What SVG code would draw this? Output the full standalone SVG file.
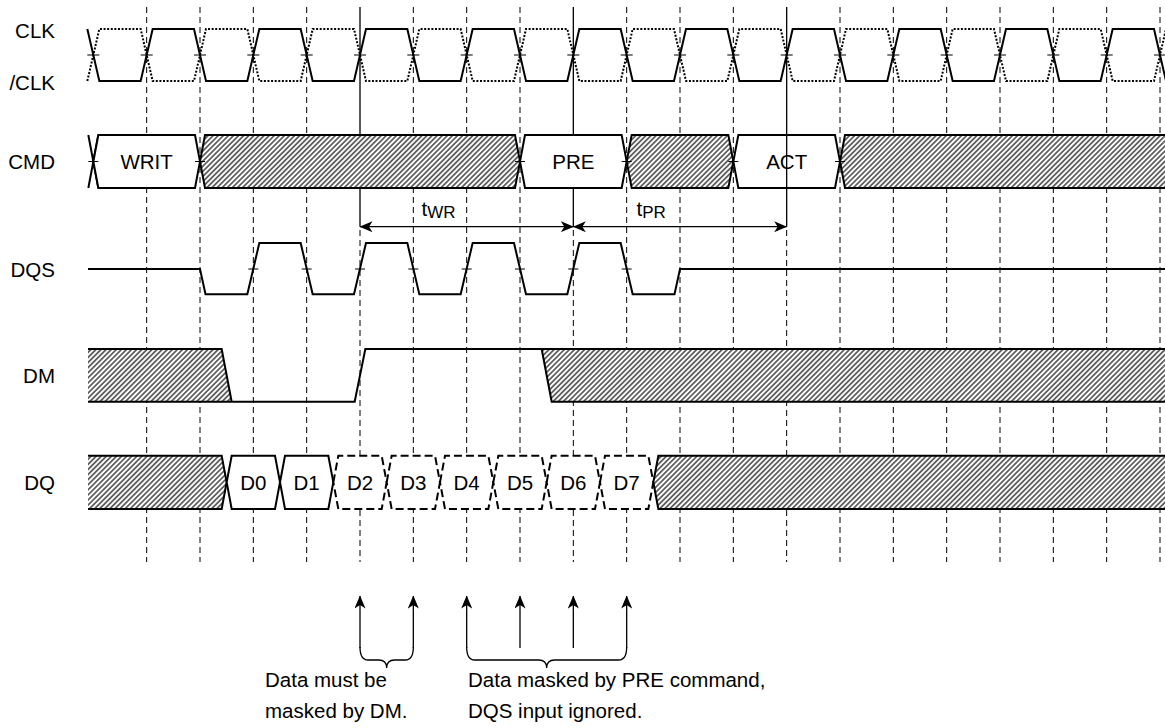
<svg xmlns="http://www.w3.org/2000/svg" width="1165" height="728" viewBox="0 0 1165 728">
<style>
text{font-family:"Liberation Sans",Arial,sans-serif;font-size:20.5px;fill:#000}
.lbl{text-anchor:end}
.c{text-anchor:middle}
.grid{stroke:#000;stroke-width:1;stroke-dasharray:6,4;fill:none}
.ref{stroke:#000;stroke-width:1.3;fill:none}
.w{stroke:#000;stroke-width:2;fill:none;stroke-linejoin:miter}
.dot{stroke:#000;stroke-width:2;fill:none;stroke-dasharray:2,1.6}
.box{stroke:#000;stroke-width:2;fill:#fff}
.dbox{stroke:#000;stroke-width:2;fill:#fff;stroke-dasharray:8,4}
.hat{fill:url(#hatch);stroke:none}
.tick{stroke:#000;stroke-width:1.2;fill:none}
.arr{stroke:#000;stroke-width:1.3;fill:none;marker-end:url(#ah)}
.arr2{stroke:#000;stroke-width:1.3;fill:none;marker-start:url(#ah);marker-end:url(#ah)}
</style>
<defs>
<pattern id="hatch" patternUnits="userSpaceOnUse" width="3.6" height="3.6" patternTransform="rotate(45)">
<rect width="3.6" height="3.6" fill="#fff"/>
<line x1="1.8" y1="-1" x2="1.8" y2="5" stroke="#333" stroke-width="1.4"/>
</pattern>
<marker id="ah" viewBox="0 0 13 11" refX="12.5" refY="5.5" markerWidth="13" markerHeight="11" markerUnits="userSpaceOnUse" orient="auto-start-reverse">
<path d="M0,0 L13,5.5 L0,11 L3.5,5.5 z" fill="#000"/>
</marker>
</defs>
<rect width="1165" height="728" fill="#fff"/>

<g id="grid">
<path class="grid" d="M146.67,7V562M200,7V562M253.33,7V562M306.67,7V562M360,230V562M413.33,7V562M466.67,7V562M520,7V562M573.33,230V562M626.67,7V562M680,7V562M733.33,7V562M786.67,230V562M840,7V562M893.33,7V562M946.67,7V562M1000,7V562M1053.33,7V562M1106.67,7V562M1160,7V562"/>
<path class="ref" d="M360,7V226.7M573.33,7V226.7"/>
</g>

<g id="labels">
<text class="lbl" x="55" y="38">CLK</text>
<text class="lbl" x="55" y="90">/CLK</text>
<text class="lbl" x="55" y="169">CMD</text>
<text class="lbl" x="55" y="277">DQS</text>
<text class="lbl" x="55" y="383">DM</text>
<text class="lbl" x="55" y="490">DQ</text>
</g>

<g id="clk">
<path class="w" d="M87.33,29 L99.33,81 L140.67,81 L152.67,29 L194,29 L206,81 L247.33,81 L259.33,29 L300.67,29 L312.67,81 L354,81 L366,29 L407.33,29 L419.33,81 L460.67,81 L472.67,29 L514,29 L526,81 L567.33,81 L579.33,29 L620.67,29 L632.67,81 L674,81 L686,29 L727.33,29 L739.33,81 L780.67,81 L792.67,29 L834,29 L846,81 L887.33,81 L899.33,29 L940.67,29 L952.67,81 L994,81 L1006,29 L1047.33,29 L1059.33,81 L1100.67,81 L1112.67,29 L1154,29 L1166,81"/>
</g>
<g id="clk-n">
<path class="dot" d="M87.33,81 L99.33,29 L140.67,29 L152.67,81 L194,81 L206,29 L247.33,29 L259.33,81 L300.67,81 L312.67,29 L354,29 L366,81 L407.33,81 L419.33,29 L460.67,29 L472.67,81 L514,81 L526,29 L567.33,29 L579.33,81 L620.67,81 L632.67,29 L674,29 L686,81 L727.33,81 L739.33,29 L780.67,29 L792.67,81 L834,81 L846,29 L887.33,29 L899.33,81 L940.67,81 L952.67,29 L994,29 L1006,81 L1047.33,81 L1059.33,29 L1100.67,29 L1112.67,81 L1154,81 L1166,29"/>
<path class="tick" d="M87.33,55h12M140.67,55h12M194,55h12M247.33,55h12M300.67,55h12M354,55h12M407.33,55h12M460.67,55h12M514,55h12M567.33,55h12M620.67,55h12M674,55h12M727.33,55h12M780.67,55h12M834,55h12M887.33,55h12M940.67,55h12M994,55h12M1047.33,55h12M1100.67,55h12M1154,55h12"/>
</g>

<g id="cmd">
<path class="w" d="M88.33,135 L98.33,188 M98.33,135 L88.33,188"/>
<g id="cmd-writ">
<polygon class="box" points="93.33,161.5 98.33,135 195,135 200,161.5 195,188 98.33,188"/>
<text class="c" x="146.67" y="169">WRIT</text>
</g>
<polygon class="hat" points="200,161.5 205,135 515,135 520,161.5 515,188 205,188"/>
<polygon class="w" points="200,161.5 205,135 515,135 520,161.5 515,188 205,188"/>
<g id="cmd-pre">
<polygon class="box" points="520,161.5 525,135 621.67,135 626.67,161.5 621.67,188 525,188"/>
<text class="c" x="573.33" y="169">PRE</text>
</g>
<polygon class="hat" points="626.67,161.5 631.67,135 728.33,135 733.33,161.5 728.33,188 631.67,188"/>
<polygon class="w" points="626.67,161.5 631.67,135 728.33,135 733.33,161.5 728.33,188 631.67,188"/>
<g id="cmd-act">
<polygon class="box" points="733.33,161.5 738.33,135 835,135 840,161.5 835,188 738.33,188"/>
<text class="c" x="786.67" y="169">ACT</text>
</g>
<polygon class="hat" points="840,161.5 845,135 1170,135 1170,188 845,188"/>
<path class="w" d="M1170,135 L845,135 L840,161.5 L845,188 L1170,188"/>
<path class="tick" d="M88.33,161.5h10M195,161.5h10M515,161.5h10M621.67,161.5h10M728.33,161.5h10M835,161.5h10"/>
<path class="ref" d="M786.67,7V226.7"/>
</g>

<g id="connectors">
<line class="arr2" x1="360" y1="226.7" x2="573.33" y2="226.7"/>
<line class="arr2" x1="573.33" y1="226.7" x2="786.67" y2="226.7"/>
<text x="421.5" y="216">t<tspan font-size="17" dy="2">WR</tspan></text>
<text x="636.5" y="216">t<tspan font-size="17" dy="2">PR</tspan></text>
<path class="arr" d="M360,648V596"/>
<path class="arr" d="M413.33,648V596"/>
<path class="arr" d="M466.67,648V596"/>
<path class="arr" d="M520,648V596"/>
<path class="arr" d="M573.33,648V596"/>
<path class="arr" d="M626.67,648V596"/>
<path class="ref" d="M360,647 Q360,660 368,660 L378.67,660 Q386.67,660 386.67,668 Q386.67,660 394.67,660 L405.33,660 Q413.33,660 413.33,647"/>
<path class="ref" d="M466.67,647 Q466.67,660 474.67,660 L538.67,660 Q546.67,660 546.67,668 Q546.67,660 554.67,660 L618.67,660 Q626.67,660 626.67,647"/>
</g>

<g id="dqs">
<path class="w" d="M88,269 L200,269 L205.5,294.3 L247.33,294.3 L259.33,243 L300.67,243 L312.67,294.3 L354,294.3 L366,243 L407.33,243 L419.33,294.3 L460.67,294.3 L472.67,243 L514,243 L526,294.3 L567.33,294.3 L579.33,243 L620.67,243 L632.67,294.3 L674.5,294.3 L680,269 L1166,269"/>
<path class="tick" d="M248.33,269h10M301.67,269h10M355,269h10M408.33,269h10M461.67,269h10M515,269h10M568.33,269h10M621.67,269h10"/>
</g>

<g id="dm">
<polygon class="hat" points="88,349 221.67,349 231.67,401.7 88,401.7"/>
<polygon class="hat" points="541.67,349 1170,349 1170,401.7 551.67,401.7"/>
<path class="w" d="M88,349 L221.67,349 L231.67,401.7 M88,401.7 L354.67,401.7 L365.33,349 L541.67,349 L551.67,401.7 L1170,401.7 M541.67,349 L1170,349"/>
</g>

<g id="dq">
<polygon class="hat" points="88,455.7 221.67,455.7 226.67,482.3 221.67,509 88,509"/>
<path class="w" d="M88,455.7 L221.67,455.7 L226.67,482.3 L221.67,509 L88,509"/>
<g id="dq-d0"><polygon class="box" points="226.67,482.3 231.67,455.7 275,455.7 280,482.3 275,509 231.67,509"/><text class="c" x="253.33" y="490">D0</text></g>
<g id="dq-d1"><polygon class="box" points="280,482.3 285,455.7 328.33,455.7 333.33,482.3 328.33,509 285,509"/><text class="c" x="306.67" y="490">D1</text></g>
<g id="dq-d2"><polygon class="dbox" points="333.33,482.3 338.33,455.7 381.67,455.7 386.67,482.3 381.67,509 338.33,509"/><text class="c" x="360" y="490">D2</text></g>
<g id="dq-d3"><polygon class="dbox" points="386.67,482.3 391.67,455.7 435,455.7 440,482.3 435,509 391.67,509"/><text class="c" x="413.33" y="490">D3</text></g>
<g id="dq-d4"><polygon class="dbox" points="440,482.3 445,455.7 488.33,455.7 493.33,482.3 488.33,509 445,509"/><text class="c" x="466.67" y="490">D4</text></g>
<g id="dq-d5"><polygon class="dbox" points="493.33,482.3 498.33,455.7 541.67,455.7 546.67,482.3 541.67,509 498.33,509"/><text class="c" x="520" y="490">D5</text></g>
<g id="dq-d6"><polygon class="dbox" points="546.67,482.3 551.67,455.7 595,455.7 600,482.3 595,509 551.67,509"/><text class="c" x="573.33" y="490">D6</text></g>
<g id="dq-d7"><polygon class="dbox" points="600,482.3 605,455.7 648.33,455.7 653.33,482.3 648.33,509 605,509"/><text class="c" x="626.67" y="490">D7</text></g>
<polygon class="hat" points="653.33,482.3 658.33,455.7 1170,455.7 1170,509 658.33,509"/>
<path class="w" d="M1170,455.7 L658.33,455.7 L653.33,482.3 L658.33,509 L1170,509"/>
</g>

<g id="notes">
<text x="265" y="687">Data must be</text>
<text x="265" y="718">masked by DM.</text>
<text x="468" y="687">Data masked by PRE command,</text>
<text x="468" y="718">DQS input ignored.</text>
</g>
</svg>
